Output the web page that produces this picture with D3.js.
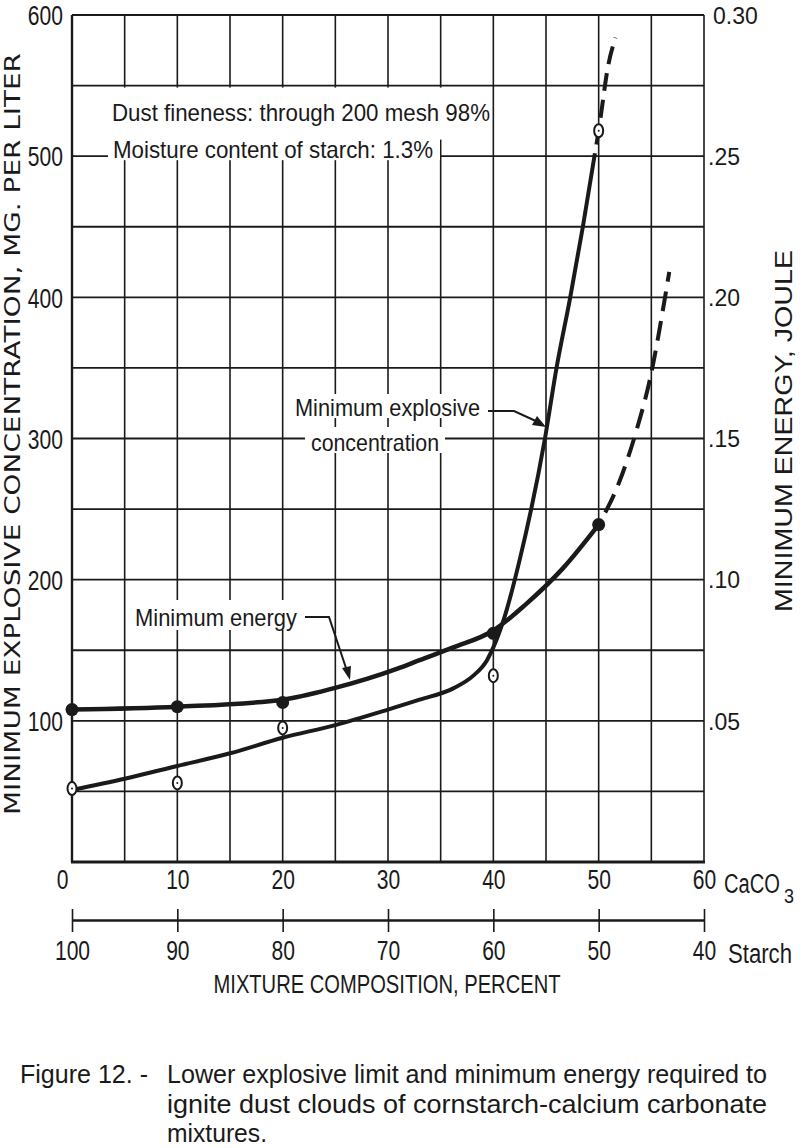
<!DOCTYPE html>
<html><head><meta charset="utf-8">
<script src="https://cdn.jsdelivr.net/npm/d3@7"></script>
<style>body{margin:0;background:#fff}svg{display:block}</style>
</head><body>
<svg id="c" width="800" height="1148"></svg>
<script>
// ---- data ----
const caco3Ticks = [0,10,20,30,40,50,60];
const starchTicks = [100,90,80,70,60,50,40];
const leftTicks = [100,200,300,400,500,600];
const rightTicks = [0.05,0.10,0.15,0.20,0.25,0.30];
// minimum explosive concentration, mg/L (left axis)
const concCurve = [[0,51],[5,59],[10,68],[15,77],[20,88],[25,97],[30,108],[33,115],[36.2,123],[38.1,132],[39.4,143],[40,152],[41,172],[42.5,214],[44.9,300],[46,350],[47.3,400],[48.5,450],[49.6,500]];
const concDashed = [[49.6,500],[50,518],[50.9,564],[51.6,584]];
const concPoints = [[0,52],[10,56],[20,95],[40,132],[50,518]];
// minimum energy, joule (right axis)
const energyCurve = [[0,0.054],[10,0.055],[20,0.0575],[24.8,0.0615],[30.9,0.0685],[33,0.0715],[36.2,0.076],[40,0.082],[43,0.091],[46.6,0.104],[50,0.1195]];
const energyDashed = [[50,0.1195],[52,0.135],[53.6,0.153],[54.9,0.1715],[56.3,0.200],[56.7,0.209]];
const energyPoints = [[0,0.054],[10,0.055],[20,0.0565],[40,0.081],[50,0.1195]];

const svg = d3.select('#c');
const x = d3.scaleLinear().domain([0,60]).range([72,704]);
const xs = d3.scaleLinear().domain([100,40]).range([72,704]);
const y = d3.scaleLinear().domain([0,600]).range([862,15]);
const yE = d3.scaleLinear().domain([0,0.30]).range([862,15]);
const ink = '#1a1a1a';
const sans = '"Liberation Sans",Arial,sans-serif';

function squeeze(sel, f){
  sel.each(function(){
    const w = this.getComputedTextLength();
    d3.select(this).attr('textLength', w*f).attr('lengthAdjust','spacingAndGlyphs');
  });
  return sel;
}

// grid
const g = svg.append('g');
g.selectAll('.vg').data(d3.range(5,60,5)).join('line')
  .attr('x1',d=>x(d)).attr('x2',d=>x(d)).attr('y1',y(600)).attr('y2',y(0))
  .attr('stroke',ink).attr('stroke-width',1.6);
g.selectAll('.hg').data(d3.range(50,600,50)).join('line')
  .attr('x1',x(0)).attr('x2',x(60)).attr('y1',d=>y(d)).attr('y2',d=>y(d))
  .attr('stroke',ink).attr('stroke-width',1.8);

// white boxes behind notes
const notes = svg.append('g');
notes.append('rect').attr('x',74).attr('y',y(550)+2).attr('width',418).attr('height',52).attr('fill','#fff');
notes.append('rect').attr('x',74).attr('y',y(500)-22).attr('width',366).attr('height',26).attr('fill','#fff');
notes.append('line').attr('x1',x(0)).attr('x2',108).attr('y1',y(500)).attr('y2',y(500)).attr('stroke',ink).attr('stroke-width',1.8);
notes.append('text').attr('x',112).attr('y',121).attr('textLength',378).attr('lengthAdjust','spacingAndGlyphs')
  .style('font-family',sans).style('font-size','24px').attr('fill',ink).text('Dust fineness: through 200 mesh 98%');
notes.append('text').attr('x',113).attr('y',158).attr('textLength',320).attr('lengthAdjust','spacingAndGlyphs')
  .style('font-family',sans).style('font-size','24px').attr('fill',ink).text('Moisture content of starch: 1.3%');

// frame
svg.append('line').attr('x1',x(0)).attr('x2',x(60)).attr('y1',y(600)).attr('y2',y(600)).attr('stroke',ink).attr('stroke-width',1.8);
svg.append('line').attr('x1',x(60)).attr('x2',x(60)).attr('y1',y(600)).attr('y2',y(0)).attr('stroke',ink).attr('stroke-width',1.6);
svg.append('line').attr('x1',x(0)).attr('x2',x(0)).attr('y1',y(600)).attr('y2',y(0)).attr('stroke',ink).attr('stroke-width',2.4);
svg.append('line').attr('x1',x(0)-1).attr('x2',x(60)+1).attr('y1',y(0)).attr('y2',y(0)).attr('stroke',ink).attr('stroke-width',3.2);

// label boxes
function labelBox(tx,ty,w,h){svg.append('rect').attr('x',tx).attr('y',ty).attr('width',w).attr('height',h).attr('fill','#fff');}
labelBox(290,394,200,24);
labelBox(305,427,140,26);
labelBox(130,600,172,30);

// curves
const line = d3.line().x(d=>x(d[0])).y(d=>y(d[1])).curve(d3.curveMonotoneX);
const lineE = d3.line().x(d=>x(d[0])).y(d=>yE(d[1])).curve(d3.curveMonotoneX);
svg.append('path').attr('d',line(concCurve)).attr('fill','none').attr('stroke',ink).attr('stroke-width',4).attr('stroke-linecap','round');
svg.append('path').attr('d',line(concDashed)).attr('fill','none').attr('stroke',ink).attr('stroke-width',4).attr('stroke-dasharray','18,9').attr('stroke-dashoffset',-12);
svg.append('path').attr('d',lineE(energyCurve)).attr('fill','none').attr('stroke',ink).attr('stroke-width',4.5).attr('stroke-linecap','round');
svg.append('path').attr('d',lineE(energyDashed)).attr('fill','none').attr('stroke',ink).attr('stroke-width',4).attr('stroke-dasharray','20,10').attr('stroke-dashoffset',-14);

// points
svg.selectAll('.ep').data(energyPoints).join('circle')
  .attr('cx',d=>x(d[0])).attr('cy',d=>yE(d[1])).attr('r',6.5).attr('fill',ink);
svg.selectAll('.cp').data(concPoints).join('ellipse')
  .attr('cx',d=>x(d[0])).attr('cy',d=>y(d[1])).attr('rx',4.5).attr('ry',6.5)
  .attr('fill','#fff').attr('stroke',ink).attr('stroke-width',2);
svg.selectAll('.cpd').data(concPoints).join('circle')
  .attr('cx',d=>x(d[0])).attr('cy',d=>y(d[1])).attr('r',1).attr('fill',ink);

// curve labels with leaders
function txt(s,tx,ty,len,size){return svg.append('text').attr('x',tx).attr('y',ty).attr('textLength',len).attr('lengthAdjust','spacingAndGlyphs')
  .style('font-family',sans).style('font-size',size+'px').attr('fill',ink).text(s);}
txt('Minimum explosive',295,416,185,24);
txt('concentration',311,451,128,24);
txt('Minimum energy',135,626,162,24);
svg.append('path').attr('d','M488,411 L514,411 L538,422').attr('fill','none').attr('stroke',ink).attr('stroke-width',2);
svg.append('path').attr('d','M546,427 L532,425 L537,416 Z').attr('fill',ink);
svg.append('path').attr('d','M305,617 L329,617 L346,668').attr('fill','none').attr('stroke',ink).attr('stroke-width',2);
svg.append('path').attr('d','M350,680 L342,668 L351,666 Z').attr('fill',ink);

// left axis
const la = svg.append('g').attr('transform',`translate(${x(0)},0)`)
  .call(d3.axisLeft(y).tickValues(leftTicks).tickSize(0).tickPadding(9).tickFormat(d3.format('d')));
la.select('.domain').remove();
squeeze(la.selectAll('text').style('font-family',sans).style('font-size','27px').attr('fill',ink).attr('dy','0.36em'),0.78);

// right axis
const ra = svg.append('g').attr('transform',`translate(${x(60)},0)`)
  .call(d3.axisRight(yE).tickValues(rightTicks).tickSize(0).tickPadding(4)
    .tickFormat(d=> d===0.30 ? '0.30' : d3.format('.2f')(d).replace(/^0/,'')));
ra.select('.domain').remove();
ra.selectAll('text').style('font-family',sans).style('font-size','23px').attr('fill',ink).attr('dy','0.36em');
ra.selectAll('.tick').filter(d=>d===0.30).select('text').attr('x',9);

// bottom axis (CaCO3)
const ba = svg.append('g').attr('transform',`translate(0,${y(0)})`)
  .call(d3.axisBottom(x).tickValues(caco3Ticks).tickSize(0).tickPadding(8).tickFormat(d3.format('d')));
ba.select('.domain').remove();
squeeze(ba.selectAll('text').style('font-family',sans).style('font-size','27px').attr('fill',ink).attr('dy','0.72em'),0.78);
ba.selectAll('.tick').filter(d=>d===0).select('text').attr('x',-10);
svg.append('text').attr('x',724).attr('y',893).attr('textLength',56).attr('lengthAdjust','spacingAndGlyphs')
  .style('font-family',sans).style('font-size','27px').attr('fill',ink).text('CaCO');
svg.append('text').attr('x',784).attr('y',903).attr('textLength',10).attr('lengthAdjust','spacingAndGlyphs')
  .style('font-family',sans).style('font-size','20px').attr('fill',ink).text('3');

// starch axis
const sa = svg.append('g').attr('transform','translate(0,920)')
  .call(d3.axisBottom(xs).tickValues(starchTicks).tickSizeInner(12).tickSizeOuter(0).tickPadding(12).tickFormat(d3.format('d')));
sa.select('.domain').attr('stroke',ink).attr('stroke-width',2.4);
sa.selectAll('.tick line').attr('stroke',ink).attr('stroke-width',1.6).attr('y1',-11);
squeeze(sa.selectAll('text').style('font-family',sans).style('font-size','27px').attr('fill',ink).attr('dy','0.6em'),0.78);
svg.append('text').attr('x',728).attr('y',963).attr('textLength',64).attr('lengthAdjust','spacingAndGlyphs')
  .style('font-family',sans).style('font-size','27px').attr('fill',ink).text('Starch');
svg.append('text').attr('x',387).attr('y',993).attr('text-anchor','middle').attr('textLength',347).attr('lengthAdjust','spacingAndGlyphs')
  .style('font-family',sans).style('font-size','25px').attr('fill',ink).text('MIXTURE COMPOSITION, PERCENT');

// axis titles
svg.append('text').attr('transform','translate(20,434) rotate(-90)').attr('text-anchor','middle')
  .attr('textLength',762).attr('lengthAdjust','spacingAndGlyphs')
  .style('font-family','"DejaVu Sans",sans-serif').style('font-size','22px').attr('fill',ink)
  .text('MINIMUM EXPLOSIVE CONCENTRATION, MG. PER LITER');
svg.append('text').attr('transform','translate(792,431) rotate(-90)').attr('text-anchor','middle')
  .attr('textLength',362).attr('lengthAdjust','spacingAndGlyphs')
  .style('font-family',sans).style('font-size','24px').attr('fill',ink)
  .text('MINIMUM ENERGY, JOULE');

// caption
function ctext(s,tx,ty,len){svg.append('text').attr('x',tx).attr('y',ty).attr('textLength',len).attr('lengthAdjust','spacingAndGlyphs')
  .style('font-family',sans).style('font-size','26px').attr('fill',ink).text(s);}
ctext('Figure 12. -',20,1083,128);
ctext('Lower explosive limit and minimum energy required to',167,1083,600);
ctext('ignite dust clouds of cornstarch-calcium carbonate',167,1113,600);
ctext('mixtures.',167,1142,100);
</script>
</body></html>
